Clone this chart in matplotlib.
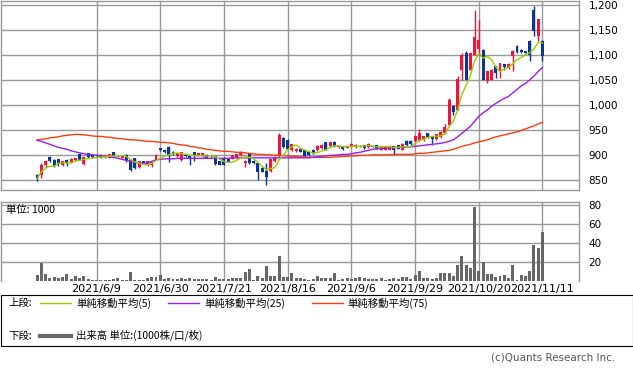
import numpy as np
import pandas as pd
import matplotlib
matplotlib.use("Agg")
import matplotlib.pyplot as plt
from matplotlib.lines import Line2D
from matplotlib.patches import Rectangle

# Daily candles (120 trading days, 2021/5 - 2021/11/11)
opens = [860, 860, 879, 895, 890, 891, 879, 890, 884, 889,
         901, 882, 903, 899, 900, 900, 895, 894, 905, 898,
         894, 900, 890, 893, 875, 887, 879, 879, 890, 913,
         909, 916, 906, 897, 889, 900, 897, 905, 899, 897,
         900, 899, 897, 887, 894, 892, 892, 893, 899, 883,
         903, 888, 883, 874, 867, 867, 887, 897, 934, 930,
         909, 907, 911, 909, 905, 910, 909, 913, 925, 917,
         926, 915, 917, 914, 917, 915, 918, 919, 915, 917,
         919, 910, 910, 910, 917, 919, 910, 928, 928, 927,
         929, 929, 943, 937, 931, 935, 943, 960, 998, 990,
         1069, 1103, 1070, 1100, 1111, 1110, 1047, 1050, 1077, 1067,
         1081, 1073, 1097, 1117, 1110, 1107, 1127, 1189, 1137, 1127]
highs = [862, 883, 890, 897, 891, 892, 888, 891, 893, 894,
         902, 896, 904, 900, 901, 901, 900, 902, 906, 899,
         900, 901, 891, 894, 888, 888, 888, 887, 901, 914,
         910, 917, 907, 904, 906, 901, 898, 906, 904, 904,
         901, 900, 898, 888, 895, 893, 900, 902, 907, 890,
         904, 889, 884, 875, 883, 892, 897, 943, 935, 931,
         922, 913, 912, 910, 906, 911, 919, 921, 926, 926,
         927, 919, 918, 916, 923, 921, 919, 920, 923, 918,
         920, 918, 918, 919, 918, 920, 923, 929, 929, 939,
         951, 938, 944, 938, 942, 947, 961, 1013, 999, 1057,
         1103, 1107, 1104, 1190, 1170, 1111, 1068, 1071, 1078, 1084,
         1082, 1083, 1110, 1120, 1111, 1108, 1130, 1198, 1172, 1130]
lows = [847, 853, 876, 886, 875, 877, 878, 877, 883, 888,
        889, 879, 894, 894, 896, 894, 894, 893, 896, 896,
        893, 886, 868, 871, 874, 882, 878, 876, 889, 907,
        903, 885, 900, 896, 888, 896, 879, 887, 898, 896,
        893, 896, 879, 879, 879, 885, 891, 892, 898, 875,
        882, 882, 850, 865, 839, 866, 886, 896, 914, 911,
        908, 906, 905, 896, 898, 902, 908, 912, 909, 916,
        916, 914, 910, 913, 916, 914, 916, 912, 914, 915,
        911, 909, 909, 909, 899, 911, 909, 918, 920, 926,
        928, 928, 934, 919, 930, 934, 942, 957, 980, 989,
        1050, 1049, 1069, 1099, 1100, 1049, 1043, 1049, 1053, 1053,
        1070, 1072, 1067, 1103, 1104, 1103, 1087, 1137, 1127, 1087]
closes = [853, 879, 888, 888, 877, 882, 887, 884, 892, 893,
          890, 895, 895, 895, 897, 895, 899, 901, 897, 897,
          899, 890, 870, 873, 887, 883, 887, 885, 900, 909,
          905, 900, 901, 903, 905, 897, 891, 897, 903, 903,
          894, 897, 882, 880, 880, 886, 899, 901, 906, 887,
          883, 883, 865, 866, 856, 891, 894, 940, 915, 912,
          921, 912, 906, 897, 899, 903, 918, 920, 910, 925,
          917, 918, 911, 915, 922, 920, 917, 913, 922, 916,
          912, 917, 917, 918, 910, 912, 922, 919, 921, 938,
          943, 937, 935, 931, 941, 946, 955, 1009, 986, 1051,
          1100, 1050, 1103, 1135, 1130, 1050, 1067, 1070, 1063, 1083,
          1075, 1082, 1108, 1105, 1105, 1104, 1100, 1147, 1172, 1097]

# Volume (1000 shares)
volumes = [6, 19, 7, 3, 4, 3.5, 4, 7, 2, 5.5,
           3, 5, 2, 1.5, 1.5, 1.5, 1.5, 1, 2, 3,
           1, 1.5, 9, 1.5, 1, 1.5, 3, 4.5, 4, 6,
           2.5, 3, 2, 2, 3, 2, 3, 2, 2, 2,
           1.8, 1.5, 4, 2, 1.8, 2, 3, 3, 3, 9.5,
           13, 1, 5, 3, 15.5, 5, 5, 26, 4, 4,
           8, 3, 3, 2, 1.5, 2, 5, 3, 3, 3,
           8, 1, 2, 3, 2, 3, 4, 3, 2, 2,
           2.5, 3, 1, 2, 3, 2, 4, 4, 2, 6,
           10, 3, 3, 2, 3, 8, 8, 8, 5, 16.5,
           26, 16.5, 14, 78, 10.5, 20, 7, 7, 4, 5,
           6, 3, 16.5, 1.5, 6, 5, 11, 37.5, 35, 51]

# 25 / 75 day moving averages as drawn (they include days before the window)
ma25 = [929, 927, 924, 921, 918, 915, 913, 911, 908, 906,
        904, 902, 901, 900, 899, 898, 897, 896, 895, 893,
        891, 889, 887, 885, 884, 883, 884, 887, 890, 891,
        892, 892, 892, 893, 893, 893, 893, 893, 893, 893,
        893, 893, 893, 893, 893, 893, 894, 894, 894, 894,
        894, 894, 894, 894, 894, 894, 894, 894, 894, 894,
        894, 894, 894, 894, 894, 895, 896, 897, 898, 899,
        899, 900, 901, 901, 902, 904, 905, 907, 909, 911,
        912, 913, 913, 914, 914, 915, 915, 916, 916, 917,
        918, 919, 920, 921, 922, 923, 925, 927, 930, 936,
        943, 950, 957, 967, 977, 984, 990, 997, 1003, 1008,
        1013, 1017, 1024, 1031, 1038, 1043, 1050, 1058, 1067, 1075]
ma75 = [930, 931, 932, 934, 935, 936, 938, 939, 940, 941,
        941, 940, 939, 938, 937, 937, 936, 935, 934, 933,
        932, 931, 930, 930, 929, 928, 927, 927, 926, 925,
        925, 924, 923, 921, 920, 919, 917, 916, 914, 913,
        911, 910, 909, 908, 907, 907, 906, 905, 905, 904,
        903, 902, 901, 901, 900, 900, 899, 899, 898, 898,
        897, 897, 896, 896, 895, 895, 895, 895, 895, 895,
        896, 896, 897, 897, 898, 898, 899, 899, 899, 900,
        900, 900, 900, 900, 901, 901, 901, 901, 901, 902,
        903, 903, 904, 905, 906, 907, 908, 909, 911, 914,
        917, 919, 921, 924, 926, 928, 930, 933, 936, 938,
        940, 942, 944, 946, 949, 952, 955, 958, 962, 965]

date_pos = [14, 29, 44, 59, 74, 89, 104, 119]
date_labels = ["2021/6/9", "2021/6/30", "2021/7/21", "2021/8/16",
               "2021/9/6", "2021/9/29", "2021/10/20", "2021/11/11"]
price_ticks = [850, 900, 950, 1000, 1050, 1100, 1150, 1200]
price_labels = ["850", "900", "950", "1,000", "1,050", "1,100", "1,150", "1,200"]
vol_ticks = [20, 40, 60, 80]

JP = ['Noto Sans CJK JP', 'DejaVu Sans']
grid_c = '#999999'
up_c = '#f0143c'
down_c = '#0a3596'
ma5_c = '#99cc00'
ma25_c = '#9a1cf0'
ma75_c = '#ff3c0a'
vol_c = '#666666'
fs = 7.5

x = np.arange(len(closes))
o = np.array(opens, dtype=float)
c = np.array(closes, dtype=float)
ma5 = pd.Series(closes).rolling(5, min_periods=1).mean()

W, H = 633, 372
fig = plt.figure(figsize=(W / 100, H / 100), dpi=100)
ax = fig.add_axes([1 / W, 1 - 190.3 / H, 578 / W, 189.8 / H])
axv = fig.add_axes([1 / W, 1 - 281 / H, 578 / W, 79.3 / H])

# Price panel
colors = np.where(c >= o, up_c, down_c)
ax.vlines(x, lows, highs, colors=colors, lw=1, zorder=3)
body = np.maximum(np.abs(c - o), 0.8)
ax.bar(x, body, bottom=np.minimum(o, c), width=0.7, color=colors, zorder=4)
ax.plot(x, ma75, color=ma75_c, lw=1, zorder=5)
ax.plot(x, ma25, color=ma25_c, lw=1, zorder=5)
ax.plot(x, ma5, color=ma5_c, lw=1, zorder=6)

ax.set_xlim(-8.5, 127.6)
ax.set_ylim(829, 1209)
ax.set_xticks(date_pos)
ax.set_xticklabels([])
ax.set_yticks(price_ticks)
ax.set_yticklabels(price_labels)
ax.yaxis.tick_right()
ax.tick_params(length=0, labelsize=fs, pad=7)
ax.grid(True, color=grid_c, lw=1)
ax.set_axisbelow(True)
for s in ax.spines.values():
    s.set_color(grid_c)
    s.set_linewidth(1)

# Volume panel
axv.bar(x, volumes, width=0.7, color=vol_c, zorder=3)
axv.set_xlim(-8.5, 127.6)
axv.set_ylim(0, 83.1)
axv.set_xticks(date_pos)
axv.set_xticklabels(date_labels)
axv.set_yticks(vol_ticks)
axv.yaxis.tick_right()
axv.tick_params(length=0, labelsize=fs)
axv.tick_params(axis='x', pad=2, labelsize=8)
axv.tick_params(axis='y', pad=7)
axv.grid(True, color=grid_c, lw=1)
axv.set_axisbelow(True)
for s in axv.spines.values():
    s.set_color(grid_c)
    s.set_linewidth(1)
axv.spines['bottom'].set_visible(False)
axv.text(5 / 578, 0.9, "単位: 1000", transform=axv.transAxes,
         family=JP, fontsize=fs, va='center', ha='left')

# Legend box
fig.patches.append(Rectangle((0.5 / W, 26 / H), 632 / W, 50.7 / H,
                             transform=fig.transFigure, fill=False,
                             ec='black', lw=0.8))
y1 = 1 - 303.3 / H
y2 = 1 - 335.7 / H
fig.text(8 / W, y1, "上段:", family=JP, fontsize=fs, va='center')
fig.text(8 / W, y2, "下段:", family=JP, fontsize=fs, va='center')
leg = [(40, 71, 76, ma5_c, "単純移動平均(5)"),
       (168, 199, 204, ma25_c, "単純移動平均(25)"),
       (312, 343, 347, ma75_c, "単純移動平均(75)")]
for x0, x1, xt, col, lab in leg:
    fig.add_artist(Line2D([x0 / W, x1 / W], [y1, y1], color=col, lw=1,
                          transform=fig.transFigure))
    fig.text(xt / W, y1, lab, family=JP, fontsize=fs, va='center')
fig.add_artist(Line2D([40 / W, 71 / W], [y2, y2], color=vol_c, lw=3,
                      transform=fig.transFigure))
fig.text(76 / W, y2, "出来高 単位:(1000株/口/枚)", family=JP, fontsize=fs,
         va='center')

fig.text(615 / W, 1 - 358 / H, "(c)Quants Research Inc.", ha='right',
         va='center', color='#555555', fontsize=fs)

fig.savefig("out.png", dpi=100)
